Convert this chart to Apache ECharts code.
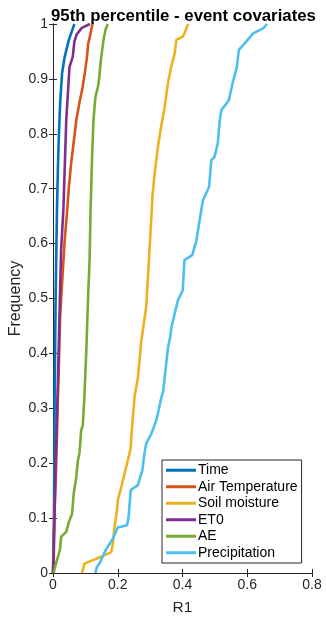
<!DOCTYPE html>
<html>
<head>
<meta charset="utf-8">
<script src="https://cdn.jsdelivr.net/npm/echarts@6/dist/echarts.min.js"></script>
<style>
  html, body { margin: 0; padding: 0; background: #fff; }
  #chart { width: 326px; height: 619px; }
</style>
</head>
<body>
<div id="chart"></div>
<script>
// Empirical CDFs of R1 per covariate: [R1, frequency] pairs
const timeData = [[0,0],[0.003,0.1],[0.004,0.2],[0.005,0.315],[0.008,0.497],[0.012,0.655],[0.015,0.734],[0.018,0.795],[0.022,0.855],[0.028,0.91],[0.036,0.94],[0.049,0.971],[0.056,0.983],[0.066,1.0]];
const airTempData = [[0,0],[0.004,0.1],[0.01,0.2],[0.015,0.315],[0.018,0.375],[0.022,0.467],[0.028,0.527],[0.036,0.606],[0.043,0.655],[0.049,0.703],[0.056,0.746],[0.066,0.795],[0.072,0.825],[0.083,0.861],[0.09,0.88],[0.098,0.91],[0.104,0.935],[0.109,0.965],[0.113,0.975],[0.122,1.0]];
const soilData = [[0.09,0],[0.093,0.008],[0.097,0.017],[0.134,0.026],[0.18,0.038],[0.185,0.054],[0.19,0.084],[0.197,0.111],[0.2,0.132],[0.211,0.157],[0.221,0.181],[0.231,0.205],[0.24,0.227],[0.242,0.25],[0.245,0.272],[0.252,0.321],[0.262,0.355],[0.273,0.424],[0.288,0.485],[0.298,0.588],[0.304,0.649],[0.307,0.685],[0.314,0.728],[0.324,0.776],[0.334,0.813],[0.345,0.849],[0.355,0.892],[0.365,0.922],[0.376,0.947],[0.381,0.971],[0.401,0.977],[0.406,0.983],[0.417,1.0]];
const et0Data = [[0,0],[0.002,0.02],[0.008,0.2],[0.015,0.345],[0.02,0.467],[0.025,0.588],[0.032,0.661],[0.036,0.734],[0.041,0.825],[0.046,0.874],[0.051,0.922],[0.056,0.931],[0.061,0.94],[0.066,0.968],[0.073,0.981],[0.089,0.993],[0.114,1.0]];
const aeData = [[0.002,0],[0.008,0.015],[0.015,0.029],[0.022,0.044],[0.025,0.066],[0.041,0.075],[0.049,0.093],[0.059,0.108],[0.064,0.145],[0.072,0.175],[0.077,0.205],[0.082,0.22],[0.087,0.26],[0.092,0.269],[0.097,0.321],[0.103,0.406],[0.108,0.497],[0.113,0.57],[0.116,0.66],[0.121,0.764],[0.125,0.825],[0.131,0.867],[0.139,0.886],[0.142,0.898],[0.149,0.94],[0.156,0.971],[0.162,0.989],[0.169,1.0]];
const precipData = [[0.131,0],[0.135,0.01],[0.144,0.018],[0.162,0.041],[0.185,0.063],[0.2,0.083],[0.229,0.087],[0.234,0.105],[0.24,0.151],[0.262,0.16],[0.276,0.187],[0.283,0.22],[0.288,0.236],[0.304,0.254],[0.319,0.278],[0.324,0.291],[0.334,0.318],[0.34,0.33],[0.345,0.356],[0.355,0.41],[0.362,0.43],[0.365,0.445],[0.376,0.473],[0.386,0.497],[0.401,0.515],[0.403,0.54],[0.406,0.57],[0.43,0.579],[0.443,0.606],[0.453,0.643],[0.463,0.679],[0.482,0.703],[0.489,0.752],[0.499,0.758],[0.509,0.783],[0.515,0.825],[0.52,0.843],[0.543,0.861],[0.556,0.895],[0.568,0.922],[0.574,0.953],[0.597,0.968],[0.618,0.983],[0.649,0.992],[0.661,1.0]];

const seriesNames = ['Time', 'Air Temperature', 'Soil moisture', 'ET0', 'AE', 'Precipitation'];
const seriesData = [timeData, airTempData, soilData, et0Data, aeData, precipData];
const seriesColors = ['#0072BD', '#D95319', '#EDB120', '#7E2F8E', '#77AC30', '#4DBEEE'];

const FONT = '"Liberation Sans", Arial, Helvetica, sans-serif';
const AXIS_COLOR = '#262626';

const chart = echarts.init(document.getElementById('chart'), null, { renderer: 'canvas' });

function boxAxis(extra) {
  return Object.assign({
    type: 'value',
    axisLine: { show: true, lineStyle: { color: AXIS_COLOR, width: 1 } },
    axisTick: { show: true, inside: true, length: 4, lineStyle: { color: AXIS_COLOR } },
    splitLine: { show: false }
  }, extra);
}

chart.setOption({
  animation: false,
  backgroundColor: '#fff',
  title: {
    text: '95th percentile - event covariates',
    left: 46,
    top: 3,
    textStyle: { fontFamily: FONT, fontSize: 16.8, fontWeight: 'bold', color: '#000' }
  },
  grid: { left: 53, right: 14, top: 24, bottom: 46, containLabel: false, outerBoundsMode: 'none' },
  xAxis: [
    boxAxis({
      position: 'bottom', min: 0, max: 0.8, interval: 0.2,
      name: 'R1', nameLocation: 'middle', nameGap: 27, nameMoveOverlap: false,
      nameTextStyle: { fontFamily: FONT, fontSize: 15.5, color: AXIS_COLOR },
      axisLabel: { fontFamily: FONT, fontSize: 14, color: AXIS_COLOR, margin: 5,
        formatter: v => String(+v.toFixed(1)) }
    }),
    boxAxis({ position: 'top', min: 0, max: 0.8, interval: 0.2, axisLabel: { show: false } })
  ],
  yAxis: [
    boxAxis({
      position: 'left', min: 0, max: 1, interval: 0.1,
      name: 'Frequency', nameLocation: 'middle', nameGap: 29, nameMoveOverlap: false,
      nameTextStyle: { fontFamily: FONT, fontSize: 16, color: AXIS_COLOR },
      axisLabel: { fontFamily: FONT, fontSize: 14, color: AXIS_COLOR, margin: 5,
        formatter: v => String(+v.toFixed(1)) }
    }),
    boxAxis({ position: 'right', min: 0, max: 1, interval: 0.1, axisLabel: { show: false } })
  ],
  legend: {
    orient: 'vertical',
    left: 162,
    top: 460,
    padding: [2, 4, 2, 4],
    itemGap: 0,
    itemWidth: 30,
    itemHeight: 3,
    icon: 'rect',
    backgroundColor: '#fff',
    borderColor: AXIS_COLOR,
    borderWidth: 1,
    textStyle: { fontFamily: FONT, fontSize: 14, color: '#000', lineHeight: 16.5, padding: [0, 0, 0, -3] },
    data: seriesNames
  },
  series: seriesNames.map((name, i) => ({
    name: name,
    type: 'line',
    data: seriesData[i],
    showSymbol: false,
    symbol: 'none',
    color: seriesColors[i],
    lineStyle: { width: 2.6, color: seriesColors[i] },
    z: 2 + i
  }))
});
</script>
</body>
</html>
